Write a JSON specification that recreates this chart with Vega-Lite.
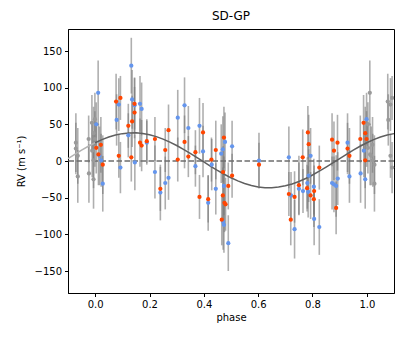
{
  "$schema": "https://vega.github.io/schema/vega-lite/v6.json",
  "autosize": {"type": "none"},
  "width": 326,
  "height": 264,
  "padding": {"left": 68, "top": 29, "right": 13, "bottom": 46},
  "background": "white",
  "title": {"text": "SD-GP", "fontSize": 12, "fontWeight": "normal", "font": "DejaVu Sans", "color": "black", "offset": 6},
  "config": {
    "view": {"stroke": "black", "strokeWidth": 1},
    "axis": {
      "grid": false, "domainColor": "black", "tickColor": "black", "tickSize": 3.5, "labelPadding": 3,
      "labelFont": "DejaVu Sans", "labelFontSize": 10, "labelColor": "black",
      "titleFont": "DejaVu Sans", "titleFontSize": 10, "titleFontWeight": "normal", "titleColor": "black"
    }
  },
  "datasets": {
    "pts": [
      {"phase": 0.004, "rv": 50, "err": 30, "inst": "B"},
      {"phase": 0.011, "rv": 93, "err": 44, "inst": "B"},
      {"phase": 0.004, "rv": 18, "err": 35, "inst": "A"},
      {"phase": 0.021, "rv": 22, "err": 38, "inst": "A"},
      {"phase": 0.016, "rv": 7, "err": 40, "inst": "B"},
      {"phase": 0.012, "rv": 9, "err": 42, "inst": "A"},
      {"phase": 0.022, "rv": 1, "err": 36, "inst": "B"},
      {"phase": 0.028, "rv": -5, "err": 40, "inst": "A"},
      {"phase": 0.028, "rv": -31, "err": 38, "inst": "B"},
      {"phase": 0.077, "rv": 81, "err": 38, "inst": "A"},
      {"phase": 0.093, "rv": 86, "err": 30, "inst": "A"},
      {"phase": 0.087, "rv": 77, "err": 36, "inst": "B"},
      {"phase": 0.079, "rv": 56, "err": 35, "inst": "B"},
      {"phase": 0.087, "rv": 7, "err": 30, "inst": "A"},
      {"phase": 0.093, "rv": -9, "err": 35, "inst": "B"},
      {"phase": 0.133, "rv": 130, "err": 38, "inst": "B"},
      {"phase": 0.136, "rv": 84, "err": 40, "inst": "B"},
      {"phase": 0.145, "rv": 78, "err": 35, "inst": "A"},
      {"phase": 0.145, "rv": 76, "err": 38, "inst": "B"},
      {"phase": 0.145, "rv": 66, "err": 35, "inst": "A"},
      {"phase": 0.136, "rv": 54, "err": 35, "inst": "A"},
      {"phase": 0.122, "rv": 48, "err": 30, "inst": "A"},
      {"phase": 0.122, "rv": 35, "err": 30, "inst": "B"},
      {"phase": 0.133, "rv": 5, "err": 33, "inst": "A"},
      {"phase": 0.146, "rv": -2, "err": 38, "inst": "B"},
      {"phase": 0.165, "rv": 78, "err": 38, "inst": "B"},
      {"phase": 0.171, "rv": 71, "err": 36, "inst": "B"},
      {"phase": 0.165, "rv": 25, "err": 33, "inst": "A"},
      {"phase": 0.171, "rv": 21, "err": 35, "inst": "A"},
      {"phase": 0.19, "rv": 27, "err": 30, "inst": "A"},
      {"phase": 0.19, "rv": 25, "err": 30, "inst": "B"},
      {"phase": 0.22, "rv": 30, "err": 30, "inst": "A"},
      {"phase": 0.22, "rv": -15, "err": 36, "inst": "B"},
      {"phase": 0.24, "rv": -38, "err": 30, "inst": "A"},
      {"phase": 0.24, "rv": -43, "err": 38, "inst": "B"},
      {"phase": 0.258, "rv": 15, "err": 30, "inst": "A"},
      {"phase": 0.258, "rv": -30, "err": 36, "inst": "B"},
      {"phase": 0.27, "rv": 42, "err": 35, "inst": "A"},
      {"phase": 0.27, "rv": -23, "err": 30, "inst": "B"},
      {"phase": 0.304, "rv": 59, "err": 38, "inst": "B"},
      {"phase": 0.304, "rv": 2, "err": 30, "inst": "A"},
      {"phase": 0.329, "rv": 76, "err": 38, "inst": "B"},
      {"phase": 0.329, "rv": 26, "err": 36, "inst": "A"},
      {"phase": 0.343, "rv": 45, "err": 30, "inst": "B"},
      {"phase": 0.343, "rv": 6, "err": 28, "inst": "A"},
      {"phase": 0.369, "rv": 12, "err": 30, "inst": "A"},
      {"phase": 0.369, "rv": -7, "err": 28, "inst": "B"},
      {"phase": 0.384, "rv": 48, "err": 38, "inst": "B"},
      {"phase": 0.384, "rv": -49, "err": 30, "inst": "A"},
      {"phase": 0.397, "rv": 39, "err": 40, "inst": "A"},
      {"phase": 0.397, "rv": 13, "err": 35, "inst": "B"},
      {"phase": 0.416, "rv": -52, "err": 32, "inst": "A"},
      {"phase": 0.416, "rv": -57, "err": 38, "inst": "B"},
      {"phase": 0.428, "rv": 2, "err": 30, "inst": "A"},
      {"phase": 0.429, "rv": -5, "err": 35, "inst": "B"},
      {"phase": 0.444, "rv": 15, "err": 40, "inst": "A"},
      {"phase": 0.444, "rv": -38, "err": 35, "inst": "B"},
      {"phase": 0.464, "rv": 10, "err": 40, "inst": "B"},
      {"phase": 0.47, "rv": 16, "err": 45, "inst": "B"},
      {"phase": 0.474, "rv": 32, "err": 42, "inst": "A"},
      {"phase": 0.478, "rv": 26, "err": 40, "inst": "B"},
      {"phase": 0.471, "rv": -15, "err": 35, "inst": "A"},
      {"phase": 0.474, "rv": -34, "err": 40, "inst": "B"},
      {"phase": 0.47, "rv": -47, "err": 38, "inst": "A"},
      {"phase": 0.476, "rv": -57, "err": 40, "inst": "A"},
      {"phase": 0.48, "rv": -59, "err": 36, "inst": "A"},
      {"phase": 0.466, "rv": -80, "err": 35, "inst": "A"},
      {"phase": 0.471, "rv": -83, "err": 38, "inst": "B"},
      {"phase": 0.474, "rv": -87, "err": 38, "inst": "B"},
      {"phase": 0.49, "rv": -112, "err": 38, "inst": "B"},
      {"phase": 0.49, "rv": -34, "err": 32, "inst": "A"},
      {"phase": 0.504, "rv": -20, "err": 30, "inst": "A"},
      {"phase": 0.504, "rv": 20, "err": 35, "inst": "B"},
      {"phase": 0.603, "rv": 0.5, "err": 38, "inst": "B"},
      {"phase": 0.603, "rv": -5, "err": 30, "inst": "A"},
      {"phase": 0.713, "rv": 5, "err": 42, "inst": "B"},
      {"phase": 0.713, "rv": -45, "err": 30, "inst": "A"},
      {"phase": 0.721, "rv": -47, "err": 32, "inst": "B"},
      {"phase": 0.72, "rv": -80, "err": 35, "inst": "A"},
      {"phase": 0.734, "rv": -93, "err": 40, "inst": "B"},
      {"phase": 0.734, "rv": -49, "err": 35, "inst": "A"},
      {"phase": 0.75, "rv": -33, "err": 40, "inst": "A"},
      {"phase": 0.75, "rv": -38, "err": 36, "inst": "B"},
      {"phase": 0.765, "rv": -41, "err": 30, "inst": "B"},
      {"phase": 0.764, "rv": 5, "err": 38, "inst": "A"},
      {"phase": 0.783, "rv": 39, "err": 36, "inst": "A"},
      {"phase": 0.786, "rv": 23, "err": 40, "inst": "A"},
      {"phase": 0.793, "rv": 7, "err": 38, "inst": "B"},
      {"phase": 0.786, "rv": -20, "err": 36, "inst": "B"},
      {"phase": 0.781, "rv": -30, "err": 35, "inst": "B"},
      {"phase": 0.78, "rv": -37, "err": 32, "inst": "A"},
      {"phase": 0.784, "rv": -42, "err": 35, "inst": "B"},
      {"phase": 0.793, "rv": -47, "err": 32, "inst": "A"},
      {"phase": 0.805, "rv": -35, "err": 38, "inst": "B"},
      {"phase": 0.806, "rv": -41, "err": 35, "inst": "A"},
      {"phase": 0.805, "rv": -52, "err": 38, "inst": "A"},
      {"phase": 0.806, "rv": -79, "err": 36, "inst": "B"},
      {"phase": 0.825, "rv": -9, "err": 30, "inst": "A"},
      {"phase": 0.825, "rv": -90, "err": 38, "inst": "B"},
      {"phase": 0.872, "rv": 29, "err": 36, "inst": "A"},
      {"phase": 0.892, "rv": 25, "err": 38, "inst": "A"},
      {"phase": 0.879, "rv": 14, "err": 40, "inst": "A"},
      {"phase": 0.872, "rv": -30, "err": 36, "inst": "B"},
      {"phase": 0.879, "rv": -32, "err": 38, "inst": "B"},
      {"phase": 0.887, "rv": -34, "err": 42, "inst": "B"},
      {"phase": 0.893, "rv": -24, "err": 36, "inst": "B"},
      {"phase": 0.887, "rv": -64, "err": 36, "inst": "A"},
      {"phase": 0.929, "rv": 25, "err": 40, "inst": "B"},
      {"phase": 0.929, "rv": 17, "err": 35, "inst": "A"},
      {"phase": 0.936, "rv": 7, "err": 38, "inst": "A"},
      {"phase": 0.936, "rv": -21, "err": 36, "inst": "B"},
      {"phase": 0.988, "rv": 52, "err": 38, "inst": "A"},
      {"phase": 0.999, "rv": 57, "err": 36, "inst": "B"},
      {"phase": 0.994, "rv": 38, "err": 36, "inst": "A"},
      {"phase": 0.999, "rv": 30, "err": 38, "inst": "A"},
      {"phase": 0.976, "rv": 30, "err": 32, "inst": "A"},
      {"phase": 0.989, "rv": 14, "err": 36, "inst": "B"},
      {"phase": 0.994, "rv": 1, "err": 38, "inst": "A"},
      {"phase": 0.977, "rv": -17, "err": 40, "inst": "B"},
      {"phase": 0.994, "rv": -25, "err": 40, "inst": "B"},
      {"phase": -0.071, "rv": 25, "err": 40, "inst": "wrap"},
      {"phase": -0.071, "rv": 17, "err": 35, "inst": "wrap"},
      {"phase": -0.064, "rv": 7, "err": 38, "inst": "wrap"},
      {"phase": -0.064, "rv": -21, "err": 36, "inst": "wrap"},
      {"phase": -0.012, "rv": 52, "err": 38, "inst": "wrap"},
      {"phase": -0.001, "rv": 57, "err": 36, "inst": "wrap"},
      {"phase": -0.006, "rv": 38, "err": 36, "inst": "wrap"},
      {"phase": -0.001, "rv": 30, "err": 38, "inst": "wrap"},
      {"phase": -0.024, "rv": 30, "err": 32, "inst": "wrap"},
      {"phase": -0.011, "rv": 14, "err": 36, "inst": "wrap"},
      {"phase": -0.006, "rv": 1, "err": 38, "inst": "wrap"},
      {"phase": -0.023, "rv": -17, "err": 40, "inst": "wrap"},
      {"phase": -0.006, "rv": -25, "err": 40, "inst": "wrap"},
      {"phase": 1.004, "rv": 50, "err": 30, "inst": "wrap"},
      {"phase": 1.011, "rv": 93, "err": 44, "inst": "wrap"},
      {"phase": 1.004, "rv": 18, "err": 35, "inst": "wrap"},
      {"phase": 1.021, "rv": 22, "err": 38, "inst": "wrap"},
      {"phase": 1.016, "rv": 7, "err": 40, "inst": "wrap"},
      {"phase": 1.012, "rv": 9, "err": 42, "inst": "wrap"},
      {"phase": 1.022, "rv": 1, "err": 36, "inst": "wrap"},
      {"phase": 1.028, "rv": -5, "err": 40, "inst": "wrap"},
      {"phase": 1.028, "rv": -31, "err": 38, "inst": "wrap"},
      {"phase": 1.077, "rv": 81, "err": 38, "inst": "wrap"},
      {"phase": 1.093, "rv": 86, "err": 30, "inst": "wrap"},
      {"phase": 1.087, "rv": 77, "err": 36, "inst": "wrap"},
      {"phase": 1.079, "rv": 56, "err": 35, "inst": "wrap"},
      {"phase": 1.087, "rv": 7, "err": 30, "inst": "wrap"},
      {"phase": 1.093, "rv": -9, "err": 35, "inst": "wrap"}
    ],
    "curveExt": [
      {"phase": -0.1, "rv": 3.35}, {"phase": -0.075, "rv": 9.18}, {"phase": -0.05, "rv": 14.8},
      {"phase": -0.025, "rv": 20.09}, {"phase": 0.0, "rv": 24.9}
    ],
    "curveMain": [
      {"phase": 0.0, "rv": 24.9}, {"phase": 0.025, "rv": 29.13}, {"phase": 0.05, "rv": 32.66},
      {"phase": 0.075, "rv": 35.42}, {"phase": 0.1, "rv": 37.32}, {"phase": 0.125, "rv": 38.33},
      {"phase": 0.15, "rv": 38.43}, {"phase": 0.175, "rv": 37.6}, {"phase": 0.2, "rv": 35.87},
      {"phase": 0.225, "rv": 33.28}, {"phase": 0.25, "rv": 29.89}, {"phase": 0.275, "rv": 25.8},
      {"phase": 0.3, "rv": 21.09}, {"phase": 0.325, "rv": 15.89}, {"phase": 0.35, "rv": 10.33},
      {"phase": 0.375, "rv": 4.53}, {"phase": 0.4, "rv": -1.35}, {"phase": 0.425, "rv": -7.18},
      {"phase": 0.45, "rv": -12.8}, {"phase": 0.475, "rv": -18.09}, {"phase": 0.5, "rv": -22.9},
      {"phase": 0.525, "rv": -27.13}, {"phase": 0.55, "rv": -30.66}, {"phase": 0.575, "rv": -33.42},
      {"phase": 0.6, "rv": -35.32}, {"phase": 0.625, "rv": -36.33}, {"phase": 0.65, "rv": -36.43},
      {"phase": 0.675, "rv": -35.6}, {"phase": 0.7, "rv": -33.87}, {"phase": 0.725, "rv": -31.28},
      {"phase": 0.75, "rv": -27.89}, {"phase": 0.775, "rv": -23.8}, {"phase": 0.8, "rv": -19.09},
      {"phase": 0.825, "rv": -13.89}, {"phase": 0.85, "rv": -8.33}, {"phase": 0.875, "rv": -2.53},
      {"phase": 0.9, "rv": 3.35}, {"phase": 0.925, "rv": 9.18}, {"phase": 0.95, "rv": 14.8},
      {"phase": 0.975, "rv": 20.09}, {"phase": 1.0, "rv": 24.9}, {"phase": 1.025, "rv": 29.13},
      {"phase": 1.05, "rv": 32.66}, {"phase": 1.075, "rv": 35.42}, {"phase": 1.1, "rv": 37.32}
    ],
    "zero": [{"rv": 0}]
  },
  "layer": [
    {
      "data": {"name": "pts"},
      "mark": {"type": "errorbar", "color": "#7a7a7a", "opacity": 0.6, "thickness": 1.6},
      "encoding": {
        "x": {"field": "phase", "type": "quantitative", "scale": {"domain": [-0.1, 1.1], "nice": false, "zero": false},
          "axis": {"title": "phase", "values": [0, 0.2, 0.4, 0.6, 0.8, 1.0], "format": ".1f", "titlePadding": 3}},
        "y": {"field": "rv", "type": "quantitative", "scale": {"domain": [-180, 180], "nice": false},
          "axis": {"title": "RV (m s⁻¹)", "values": [-150, -100, -50, 0, 50, 100, 150], "titlePadding": 8}},
        "yError": {"field": "err"}
      }
    },
    {
      "data": {"name": "zero"},
      "mark": {"type": "rule", "color": "#6e6e6e", "strokeDash": [5.5, 2.5], "strokeWidth": 1.5},
      "encoding": {"y": {"field": "rv", "type": "quantitative"}}
    },
    {
      "data": {"name": "curveExt"},
      "mark": {"type": "line", "color": "#b3b3b3", "strokeWidth": 1.5},
      "encoding": {
        "x": {"field": "phase", "type": "quantitative"},
        "y": {"field": "rv", "type": "quantitative"}
      }
    },
    {
      "data": {"name": "curveMain"},
      "mark": {"type": "line", "color": "#5f5f5f", "strokeWidth": 1.5},
      "encoding": {
        "x": {"field": "phase", "type": "quantitative"},
        "y": {"field": "rv", "type": "quantitative"}
      }
    },
    {
      "data": {"name": "pts"},
      "mark": {"type": "circle", "size": 18, "opacity": 1},
      "encoding": {
        "x": {"field": "phase", "type": "quantitative"},
        "y": {"field": "rv", "type": "quantitative"},
        "color": {"field": "inst", "type": "nominal", "legend": null,
          "scale": {"domain": ["A", "B", "wrap"], "range": ["#ff4500", "#6495ed", "#9a9a9a"]}},
        "order": {"field": "inst", "sort": "descending"}
      }
    }
  ]
}
